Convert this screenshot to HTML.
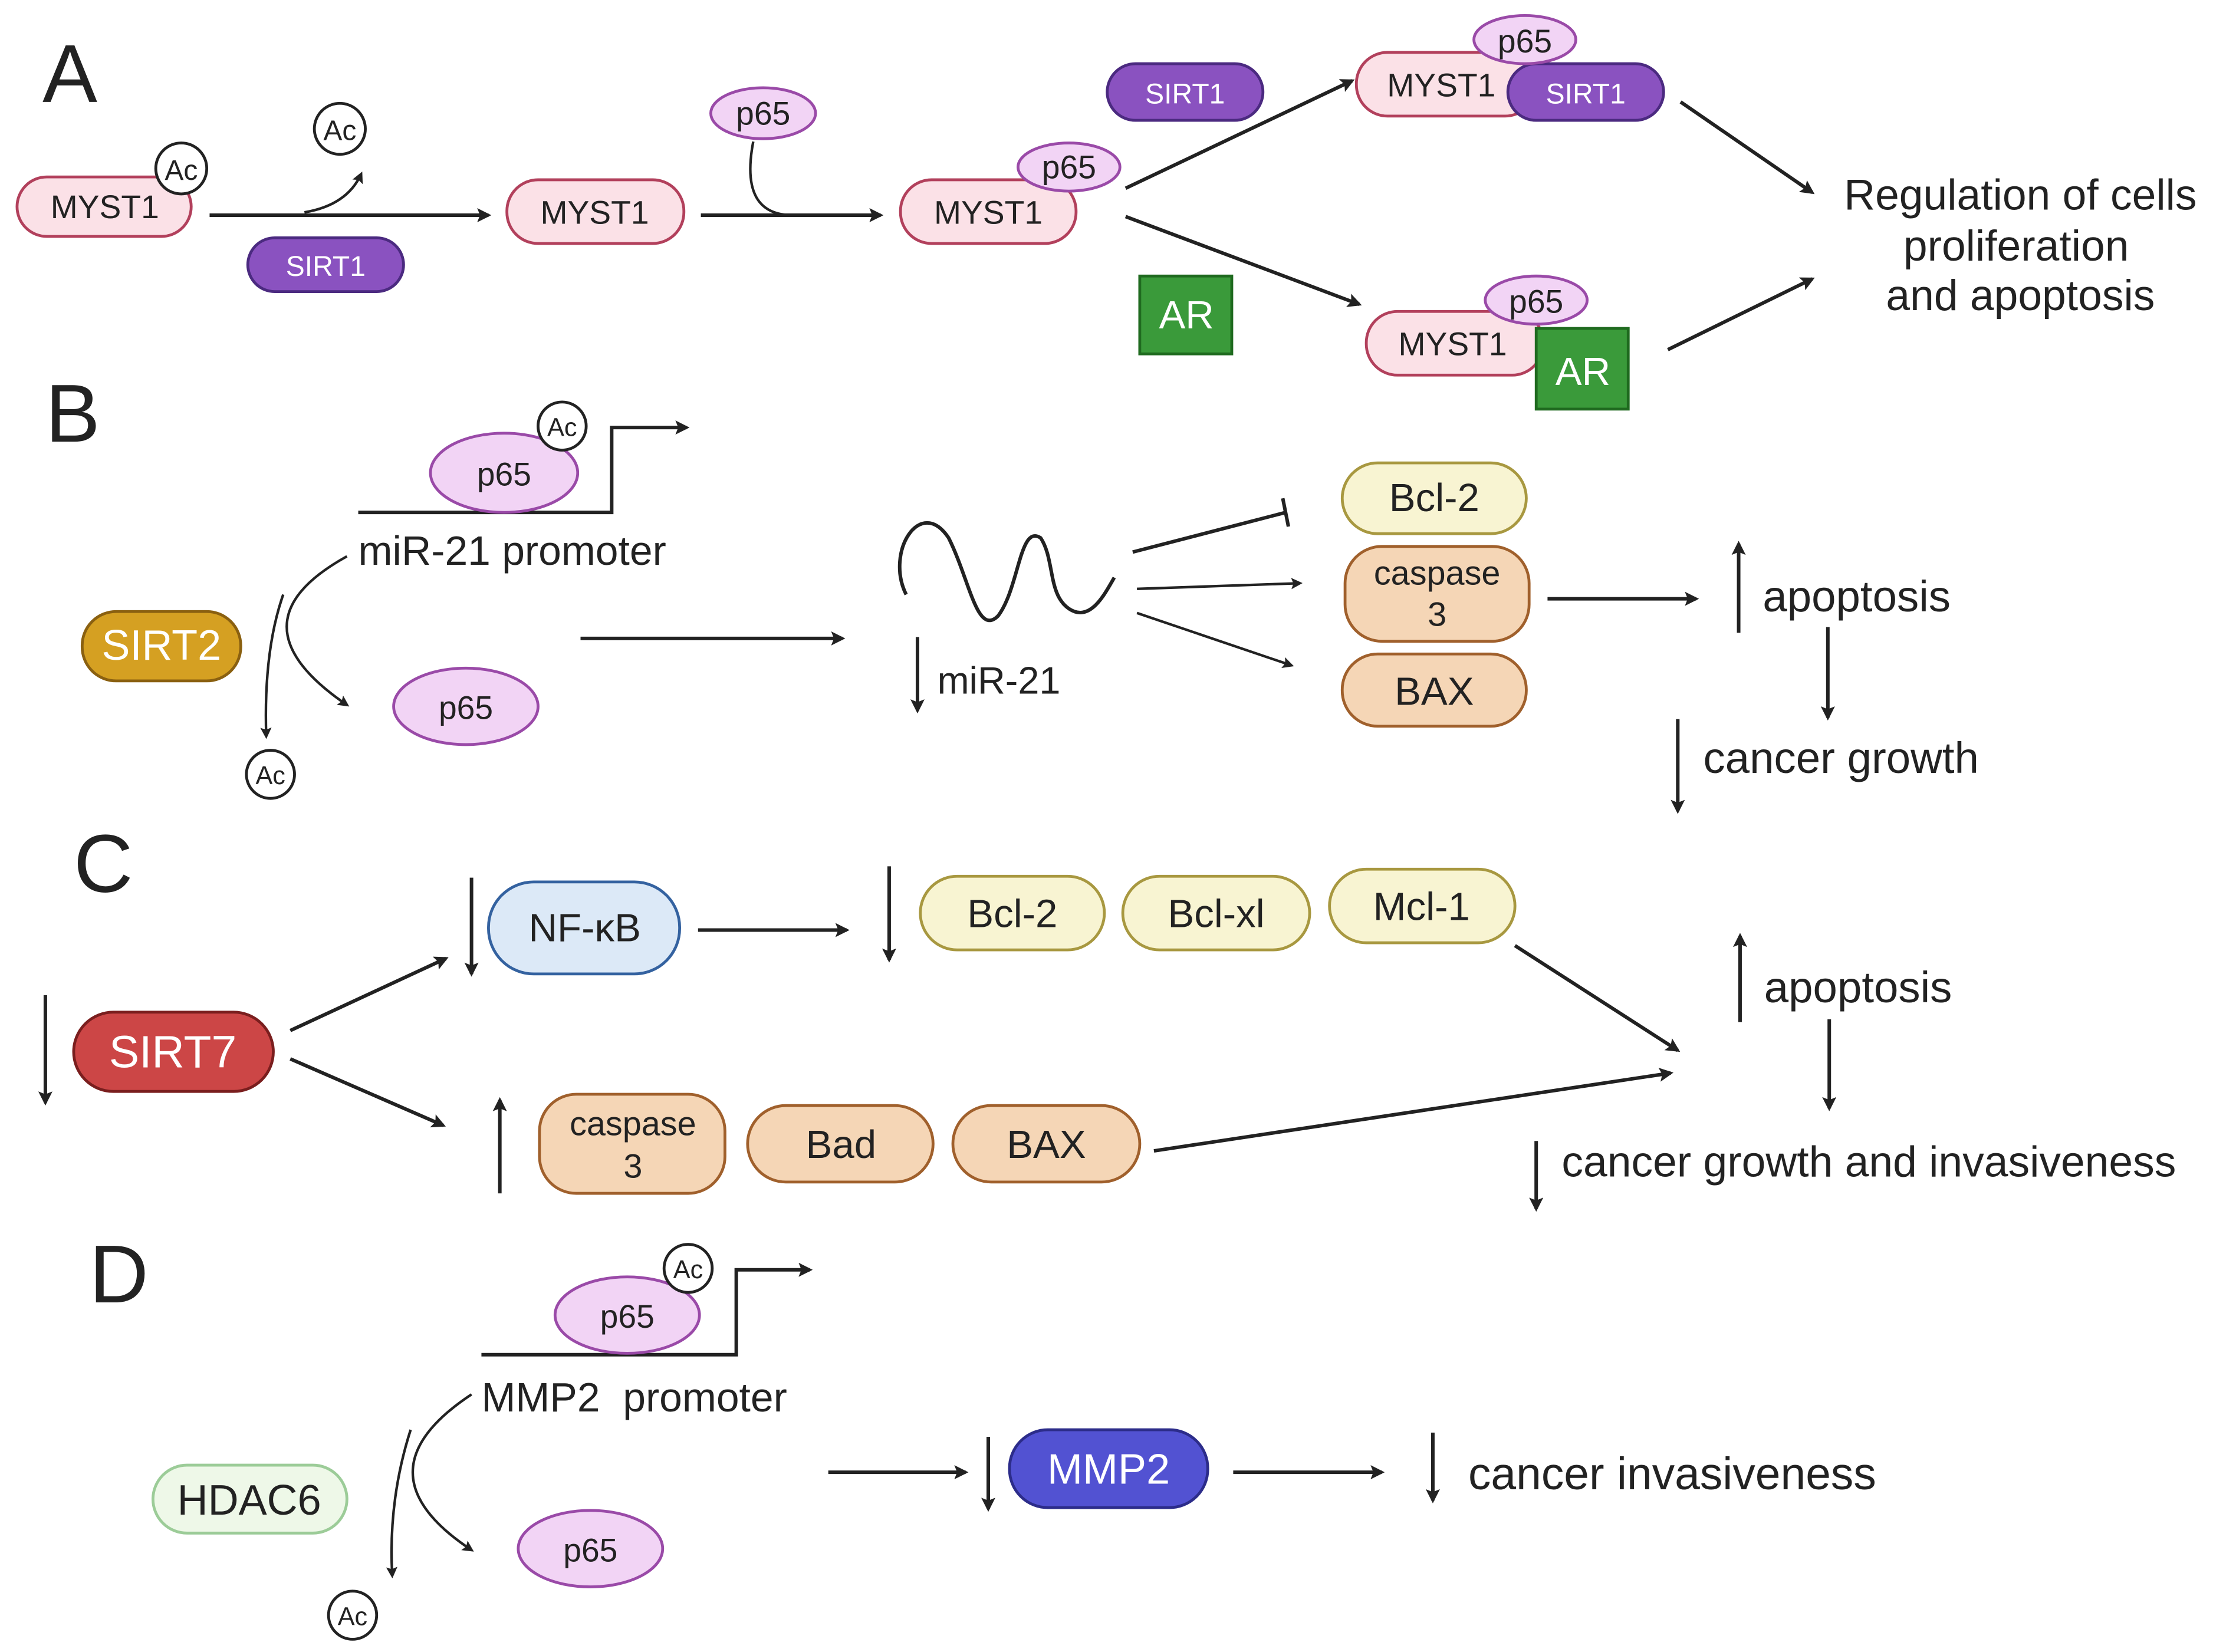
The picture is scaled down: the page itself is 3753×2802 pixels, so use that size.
<!DOCTYPE html>
<html><head><meta charset="utf-8"><style>
html,body{margin:0;padding:0;background:#fff}
svg{display:block}
text{font-family:"Liberation Sans",sans-serif;fill:#222}
</style></head><body>
<svg width="3753" height="2802" viewBox="0 0 1563 1167" xmlns="http://www.w3.org/2000/svg">
<defs>
<marker id="a" markerWidth="10" markerHeight="10" refX="8" refY="5" orient="auto" markerUnits="userSpaceOnUse"><path d="M0,0 L10,5 L0,10 L2,5 z" fill="#222"/></marker>
<marker id="s" markerWidth="8" markerHeight="8" refX="6" refY="4" orient="auto" markerUnits="userSpaceOnUse"><path d="M0,0 L8,4 L0,8 L1.5,4 z" fill="#222"/></marker>
</defs>
<g stroke="#222" stroke-width="2.5" fill="none">
<line x1="148" y1="152" x2="345" y2="152" marker-end="url(#a)"/>
<path d="M215,150 Q245,145 255,123" stroke-width="1.8" marker-end="url(#s)"/>
<line x1="495" y1="152" x2="622" y2="152" marker-end="url(#a)"/>
<path d="M532,100 Q522,152 560,152" stroke-width="1.8"/>
<line x1="795" y1="133" x2="955" y2="57" marker-end="url(#a)"/>
<line x1="795" y1="153" x2="960" y2="215" marker-end="url(#a)"/>
<line x1="1187" y1="72" x2="1280" y2="136" marker-end="url(#a)"/>
<line x1="1178" y1="247" x2="1280" y2="197" marker-end="url(#a)"/>
<polyline points="253,362 432,362 432,302 485,302" marker-end="url(#a)"/>
<path d="M245,393 Q160,440 245,498" stroke-width="1.8" marker-end="url(#s)"/>
<path d="M200,420 Q186,460 188,520" stroke-width="1.8" marker-end="url(#s)"/>
<line x1="410" y1="451" x2="595" y2="451" marker-end="url(#a)"/>
<path d="M640,420 C625,390 650,350 670,380 C685,410 690,450 705,435 C720,415 720,370 735,380 C745,395 740,420 755,430 C770,440 780,420 787,408" stroke-width="2.5"/>
<line x1="648" y1="450" x2="648" y2="502" marker-end="url(#a)"/>
<line x1="800" y1="390" x2="908" y2="362"/>
<line x1="906" y1="352" x2="910" y2="372"/>
<line x1="803" y1="416" x2="918" y2="412" stroke-width="1.8" marker-end="url(#s)"/>
<line x1="803" y1="433" x2="912" y2="470" stroke-width="1.8" marker-end="url(#s)"/>
<line x1="1093" y1="423" x2="1198" y2="423" marker-end="url(#a)"/>
<line x1="1228" y1="447" x2="1228" y2="384" marker-end="url(#a)"/>
<line x1="1291" y1="443" x2="1291" y2="507" marker-end="url(#a)"/>
<line x1="1185" y1="508" x2="1185" y2="573" marker-end="url(#a)"/>
<line x1="32" y1="703" x2="32" y2="779" marker-end="url(#a)"/>
<line x1="205" y1="728" x2="315" y2="677" marker-end="url(#a)"/>
<line x1="205" y1="748" x2="313" y2="795" marker-end="url(#a)"/>
<line x1="333" y1="620" x2="333" y2="688" marker-end="url(#a)"/>
<line x1="493" y1="657" x2="598" y2="657" marker-end="url(#a)"/>
<line x1="628" y1="612" x2="628" y2="678" marker-end="url(#a)"/>
<line x1="353" y1="843" x2="353" y2="777" marker-end="url(#a)"/>
<line x1="1070" y1="668" x2="1185" y2="742" marker-end="url(#a)"/>
<line x1="815" y1="813" x2="1180" y2="758" marker-end="url(#a)"/>
<line x1="1229" y1="722" x2="1229" y2="661" marker-end="url(#a)"/>
<line x1="1292" y1="720" x2="1292" y2="783" marker-end="url(#a)"/>
<line x1="1085" y1="806" x2="1085" y2="854" marker-end="url(#a)"/>
<polyline points="340,957 520,957 520,897 572,897" marker-end="url(#a)"/>
<path d="M333,985 Q250,1040 333,1095" stroke-width="1.8" marker-end="url(#s)"/>
<path d="M290,1010 Q274,1060 277,1113" stroke-width="1.8" marker-end="url(#s)"/>
<line x1="585" y1="1040" x2="682" y2="1040" marker-end="url(#a)"/>
<line x1="698" y1="1015" x2="698" y2="1066" marker-end="url(#a)"/>
<line x1="871" y1="1040" x2="976" y2="1040" marker-end="url(#a)"/>
<line x1="1012" y1="1012" x2="1012" y2="1060" marker-end="url(#a)"/>
</g>

<g font-size="58">
<text x="30" y="72">A</text><text x="32" y="312">B</text><text x="52" y="630">C</text><text x="63" y="920">D</text>
</g>

<g stroke-width="2">
<rect x="12" y="125" width="123" height="42" rx="21" fill="#fbe1e7" stroke="#b2405c"/>
<rect x="175" y="168" width="110" height="38" rx="19" fill="#8a52c0" stroke="#4b2a80"/>
<rect x="358" y="127" width="125" height="45" rx="22" fill="#fbe1e7" stroke="#b2405c"/>
<rect x="636" y="127" width="124" height="45" rx="22" fill="#fbe1e7" stroke="#b2405c"/>
<rect x="782" y="45" width="110" height="40" rx="20" fill="#8a52c0" stroke="#4b2a80"/>
<rect x="805" y="195" width="65" height="55" fill="#3a9a3a" stroke="#1f6a1f"/>
<rect x="958" y="37" width="127" height="45" rx="22" fill="#fbe1e7" stroke="#b2405c"/>
<rect x="1065" y="45" width="110" height="40" rx="20" fill="#8a52c0" stroke="#4b2a80"/>
<rect x="965" y="220" width="125" height="45" rx="22" fill="#fbe1e7" stroke="#b2405c"/>
<rect x="1085" y="232" width="65" height="57" fill="#3a9a3a" stroke="#1f6a1f"/>
<ellipse cx="539" cy="80" rx="37" ry="18" fill="#f2d4f5" stroke="#9a4aa8"/>
<ellipse cx="755" cy="118" rx="36" ry="17" fill="#f2d4f5" stroke="#9a4aa8"/>
<ellipse cx="1077" cy="28" rx="36" ry="17" fill="#f2d4f5" stroke="#9a4aa8"/>
<ellipse cx="1085" cy="212" rx="36" ry="17" fill="#f2d4f5" stroke="#9a4aa8"/>
<circle cx="128" cy="119" r="18" fill="#fff" stroke="#222"/>
<circle cx="240" cy="91" r="18" fill="#fff" stroke="#222"/>
</g>
<g font-size="23" text-anchor="middle">
<text x="74" y="154">MYST1</text><text x="128" y="127" font-size="20">Ac</text><text x="240" y="99" font-size="20">Ac</text>
<text x="230" y="195" font-size="20" style="fill:#fff">SIRT1</text>
<text x="420" y="158">MYST1</text><text x="698" y="158">MYST1</text>
<text x="539" y="88">p65</text><text x="755" y="126">p65</text><text x="1077" y="37">p65</text><text x="1085" y="221">p65</text>
<text x="837" y="73" font-size="20" style="fill:#fff">SIRT1</text>
<text x="838" y="232" font-size="28" style="fill:#fff">AR</text>
<text x="1018" y="68">MYST1</text>
<text x="1120" y="73" font-size="20" style="fill:#fff">SIRT1</text>
<text x="1026" y="251">MYST1</text>
<text x="1118" y="272" font-size="28" style="fill:#fff">AR</text>
<text x="1427" y="148" font-size="30.5">Regulation of cells</text>
<text x="1424" y="184" font-size="30.5">proliferation</text>
<text x="1427" y="219" font-size="30.5">and apoptosis</text>
</g>

<g stroke-width="2">
<ellipse cx="356" cy="334" rx="52" ry="28" fill="#f2d4f5" stroke="#9a4aa8"/>
<circle cx="397" cy="301" r="17" fill="#fff" stroke="#222"/>
<rect x="58" y="432" width="112" height="49" rx="24" fill="#d5a022" stroke="#8a6010"/>
<ellipse cx="329" cy="499" rx="51" ry="27" fill="#f2d4f5" stroke="#9a4aa8"/>
<circle cx="191" cy="547" r="17" fill="#fff" stroke="#222"/>
<rect x="948" y="327" width="130" height="50" rx="25" fill="#f8f4d2" stroke="#a89840"/>
<rect x="950" y="386" width="130" height="67" rx="26" fill="#f5d6b6" stroke="#a0602c"/>
<rect x="948" y="462" width="130" height="51" rx="25" fill="#f5d6b6" stroke="#a0602c"/>
</g>
<g font-size="26" text-anchor="middle">
<text x="356" y="343" font-size="23">p65</text><text x="397" y="308" font-size="18">Ac</text>
<text x="114" y="466" font-size="30" style="fill:#fff">SIRT2</text>
<text x="329" y="508" font-size="23">p65</text><text x="191" y="554" font-size="18">Ac</text>
<text x="1013" y="361" font-size="28">Bcl-2</text>
<text x="1015" y="413" font-size="24">caspase</text><text x="1015" y="442" font-size="24">3</text>
<text x="1013" y="498" font-size="28">BAX</text>
</g>
<g font-size="31">
<text x="253" y="399" font-size="29">miR-21 promoter</text>
<text x="662" y="490" font-size="27">miR-21</text>
<text x="1245" y="432">apoptosis</text>
<text x="1203" y="546">cancer growth</text>
</g>

<g stroke-width="2">
<rect x="52" y="715" width="141" height="56" rx="28" fill="#cc4646" stroke="#7a1e1e"/>
<rect x="345" y="623" width="135" height="65" rx="32" fill="#dce9f7" stroke="#3462a0"/>
<rect x="650" y="619" width="130" height="52" rx="26" fill="#f8f4d2" stroke="#a89840"/>
<rect x="793" y="619" width="132" height="52" rx="26" fill="#f8f4d2" stroke="#a89840"/>
<rect x="939" y="614" width="131" height="52" rx="26" fill="#f8f4d2" stroke="#a89840"/>
<rect x="381" y="773" width="131" height="70" rx="26" fill="#f5d6b6" stroke="#a0602c"/>
<rect x="528" y="781" width="131" height="54" rx="27" fill="#f5d6b6" stroke="#a0602c"/>
<rect x="673" y="781" width="132" height="54" rx="27" fill="#f5d6b6" stroke="#a0602c"/>
</g>
<g font-size="28" text-anchor="middle">
<text x="122" y="754" font-size="32" style="fill:#fff">SIRT7</text>
<text x="413" y="665">NF-κB</text>
<text x="715" y="655">Bcl-2</text><text x="859" y="655">Bcl-xl</text><text x="1004" y="650">Mcl-1</text>
<text x="447" y="802" font-size="24">caspase</text><text x="447" y="832" font-size="24">3</text>
<text x="594" y="818">Bad</text><text x="739" y="818">BAX</text>
</g>
<g font-size="31">
<text x="1246" y="708">apoptosis</text>
<text x="1103" y="831" font-size="30.5">cancer growth and invasiveness</text>
</g>

<g stroke-width="2">
<ellipse cx="443" cy="929" rx="51" ry="27" fill="#f2d4f5" stroke="#9a4aa8"/>
<circle cx="486" cy="896" r="17" fill="#fff" stroke="#222"/>
<rect x="108" y="1035" width="137" height="48" rx="24" fill="#eef8e8" stroke="#9ccc98"/>
<ellipse cx="417" cy="1094" rx="51" ry="27" fill="#f2d4f5" stroke="#9a4aa8"/>
<circle cx="249" cy="1141" r="17" fill="#fff" stroke="#222"/>
<rect x="713" y="1010" width="140" height="55" rx="27" fill="#5252d2" stroke="#2c2c8a"/>
</g>
<g font-size="23" text-anchor="middle">
<text x="443" y="938">p65</text><text x="486" y="903" font-size="18">Ac</text>
<text x="176" y="1070" font-size="30">HDAC6</text>
<text x="417" y="1103">p65</text><text x="249" y="1148" font-size="18">Ac</text>
<text x="783" y="1048" font-size="30" style="fill:#fff">MMP2</text>
</g>
<g font-size="29">
<text x="340" y="997" xml:space="preserve">MMP2  promoter</text>
<text x="1037" y="1052" font-size="32">cancer invasiveness</text>
</g>
</svg>
</body></html>
